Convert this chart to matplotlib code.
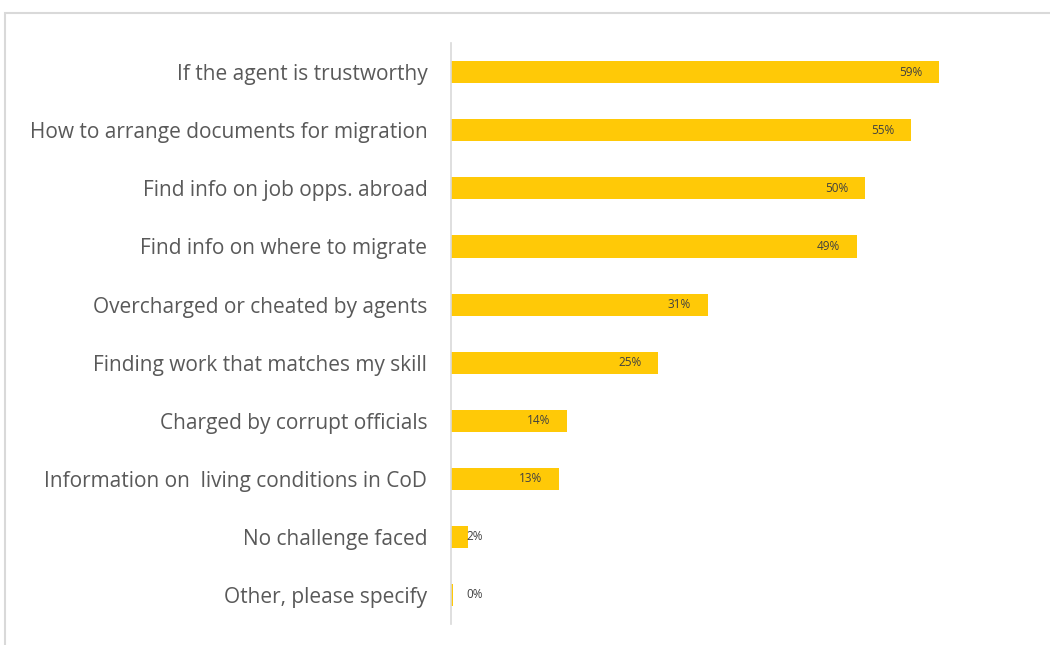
import matplotlib.pyplot as plt
from matplotlib.patches import Rectangle

categories = ['If the agent is trustworthy',
              'How to arrange documents for migration',
              'Find info on job opps. abroad',
              'Find info on where to migrate',
              'Overcharged or cheated by agents',
              'Finding work that matches my skill',
              'Charged by corrupt officials',
              'Information on  living conditions in CoD',
              'No challenge faced',
              'Other, please specify']
values = [59, 55.5, 50, 49, 31, 25, 14, 13, 2, 0.3]
labels = ['59%', '55%', '50%', '49%', '31%', '25%', '14%', '13%', '2%', '0%']

plt.rcParams['font.family'] = ['Open Sans', 'DejaVu Sans']

fig = plt.figure(figsize=(10.5, 6.45), dpi=100)
ax = fig.add_axes([0.4295, 0.0326, 0.552, 0.9004])

pos = list(range(len(categories)))
ax.barh(pos, values, height=0.38, color='#FFC907')
ax.set_ylim(len(categories) - 0.5, -0.5)
ax.set_xlim(0, 70)

# labels inside the bar end, small ones just outside
for p, v, lab in zip(pos, values, labels):
    if v > 10:
        ax.text(v - 2.0, p, lab, ha='right', va='center', fontsize=8.5, color='#404040')
    else:
        ax.text(1.9, p, lab, ha='left', va='center', fontsize=8.5, color='#404040')

ax.set_yticks(pos)
ax.set_yticklabels(categories, fontsize=15, color='#595959')
ax.tick_params(axis='y', length=0, pad=17)
ax.set_xticks([])
for s in ['top', 'right', 'bottom']:
    ax.spines[s].set_visible(False)
ax.spines['left'].set_color('#D9D9D9')
ax.spines['left'].set_linewidth(1.2)

fig.patches.append(Rectangle((5 / 1050, -0.1), 1.1, 1 - 13 / 645 + 0.1,
                             transform=fig.transFigure, fill=False,
                             edgecolor='#D9D9D9', linewidth=1.5))

fig.savefig('out.png', dpi=100)
